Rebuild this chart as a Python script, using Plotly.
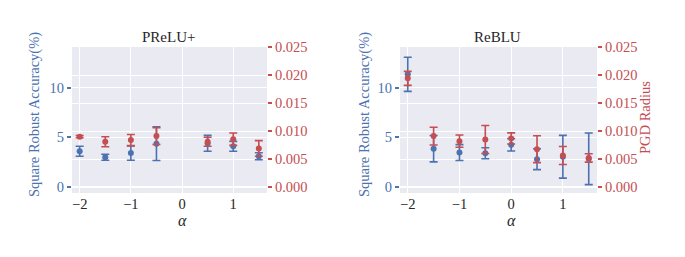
import plotly.graph_objects as go

BLUE = "#4C72B0"
RED = "#C44E52"
BG = "#EAEAF2"
FONT = "Liberation Serif, DejaVu Serif, serif"

# PReLU+
prelu_alpha = [-2, -1.5, -1, -0.5, 0.5, 1, 1.5]
prelu_acc = [3.6, 3.0, 3.42, 4.37, 4.4, 4.1, 3.1]
prelu_acc_err = [0.5, 0.3, 0.72, 1.7, 0.8, 0.5, 0.35]
prelu_pgd = [0.0090, 0.0081, 0.0084, 0.0091, 0.0081, 0.00855, 0.0069]
prelu_pgd_err = [0.0002, 0.0009, 0.001, 0.0015, 0.0008, 0.0011, 0.0014]

# ReBLU
reblu_alpha = [-2, -1.5, -1, -0.5, 0, 0.5, 1, 1.5]
reblu_acc = [11.35, 3.86, 3.47, 3.4, 4.25, 2.8, 3.05, 2.84]
reblu_acc_err = [1.72, 1.33, 0.8, 0.55, 0.62, 1.05, 2.15, 2.6]
reblu_pgd = [0.01944, 0.0091, 0.0082, 0.0085, 0.00868, 0.00676, 0.00563, 0.0052]
reblu_pgd_err = [0.00125, 0.0016, 0.0011, 0.0025, 0.001, 0.0024, 0.0016, 0.00075]

titles = ["PReLU+", "ReBLU"]
x_ticks = [-2, -1, 0, 1]
x_labels = ["\u22122", "\u22121", "0", "1"]
acc_ticks = [0, 5, 10]
pgd_ticks = [0.0, 0.005, 0.01, 0.015, 0.02, 0.025]
pgd_labels = ["0.000", "0.005", "0.010", "0.015", "0.020", "0.025"]

fig = go.Figure()

def add_series(x, y, e, color, xa, ya):
    fig.add_trace(go.Scatter(
        x=x, y=y, mode="markers", xaxis=xa, yaxis=ya,
        marker=dict(color=color, size=6),
        error_y=dict(type="data", array=e, visible=True, color=color,
                     thickness=1.6, width=4),
        showlegend=False))

add_series(prelu_alpha, prelu_acc, prelu_acc_err, BLUE, "x", "y")
add_series(prelu_alpha, prelu_pgd, prelu_pgd_err, RED, "x", "y2")
add_series(reblu_alpha, reblu_acc, reblu_acc_err, BLUE, "x2", "y3")
add_series(reblu_alpha, reblu_pgd, reblu_pgd_err, RED, "x2", "y4")

W, H = 685, 257
ydom = [1 - 193 / H, 1 - 47 / H]
xdoms = [[72 / W, 267 / W], [400 / W, 597 / W]]
TICK = 14.5
tickfont = lambda c: dict(family=FONT, size=TICK, color=c)

grid = dict(showgrid=True, gridcolor="white", gridwidth=1.4, zeroline=False,
            showline=False, automargin=False)

layout = dict(
    width=W, height=H,
    margin=dict(l=0, r=0, t=0, b=0),
    paper_bgcolor="white", plot_bgcolor=BG,
    font=dict(family=FONT),
    showlegend=False,
)

for i in range(2):
    xn = "xaxis" if i == 0 else "xaxis2"
    yl = "yaxis" if i == 0 else "yaxis3"
    yr = "yaxis2" if i == 0 else "yaxis4"
    yl_id = "y" if i == 0 else "y3"
    x_id = "x" if i == 0 else "x2"
    layout[xn] = dict(domain=xdoms[i], range=[-2.15, 1.66], anchor=yl_id,
                      tickvals=x_ticks, ticktext=x_labels,
                      tickfont=tickfont("#262626"), ticks="", **grid)
    layout[yl] = dict(domain=ydom, range=[-0.6, 14.1], anchor=x_id,
                      tickvals=acc_ticks, tickfont=tickfont(BLUE),
                      ticks="outside", ticklen=4, tickcolor=BLUE, tickwidth=1.5,
                      **grid)
    layout[yr] = dict(range=[-0.00108, 0.02505], overlaying=yl_id, side="right",
                      anchor=x_id, tickvals=pgd_ticks, ticktext=pgd_labels,
                      tickfont=tickfont(RED), ticks="outside", ticklen=4,
                      tickcolor=RED, tickwidth=1.5, **grid)

fig.update_layout(**layout)

def note(x, y, text, size, color, angle=0):
    return dict(x=x / W, y=1 - y / H, xref="paper", yref="paper", text=text,
                showarrow=False, xanchor="center", yanchor="middle",
                textangle=angle, font=dict(family=FONT, size=size, color=color))

ann = []
for cx, t in [(168, titles[0]), (497, titles[1])]:
    ann.append(note(cx, 37, t, 15, "#262626"))
for cx in [182, 511]:
    ann.append(note(cx, 220, "<i>\u03b1</i>", 16, "#262626"))
for cx in [35, 365]:
    ann.append(note(cx, 115, "Square Robust Accuracy(%)", 14.5, BLUE, -90))
ann.append(note(645, 118, "PGD Radius", 14.5, RED, -90))
fig.update_layout(annotations=ann)

fig.write_html("out.html", config={"displayModeBar": False},
               post_script="document.body.style.margin='0';")
